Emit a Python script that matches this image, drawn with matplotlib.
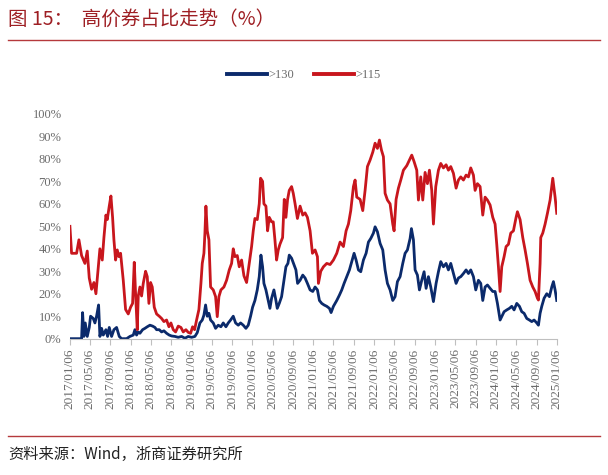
import matplotlib
matplotlib.use("Agg")
import matplotlib.pyplot as plt
from matplotlib.lines import Line2D
from matplotlib.ticker import FuncFormatter
import pandas as pd

start = pd.Timestamp("2017-01-06")

# days since 2017/01/06 and share (%) of bonds priced above 115
red_days = [0, 10, 40, 54, 70, 90, 104, 116, 130, 144, 156, 170, 180, 194, 204, 216, 224, 236, 246, 256,
            264, 274, 284, 294, 304, 320, 334, 350, 364, 376, 386, 394, 404, 410, 420, 430, 440, 454, 464, 474,
            484, 494, 506, 520, 536, 550, 564, 580, 594, 606, 620, 634, 650, 666, 680, 696, 710, 724, 736, 748,
            760, 774, 786, 794, 804, 810, 816, 824, 834, 844, 860, 874, 884, 894, 906, 924, 940, 956, 970, 980,
            990, 1004, 1016, 1030, 1044, 1060, 1076, 1090, 1100, 1110, 1124, 1136, 1144, 1156, 1164, 1176, 1186,
            1196, 1210, 1220, 1230, 1240, 1250, 1260, 1276, 1286, 1296, 1306, 1316, 1330, 1340, 1351, 1365, 1381,
            1397, 1411, 1425, 1441, 1455, 1471, 1485, 1491, 1505, 1521, 1541, 1561, 1581, 1601, 1621, 1641, 1657,
            1671, 1685, 1701, 1711, 1721, 1741, 1757, 1771, 1785, 1801, 1817, 1831, 1845, 1857, 1869, 1881, 1891,
            1905, 1921, 1937, 1945, 1957, 1971, 1985, 2001, 2021, 2037, 2051, 2065, 2081, 2091, 2105, 2117, 2131,
            2145, 2157, 2171, 2181, 2195, 2211, 2225, 2241, 2257, 2271, 2285, 2301, 2317, 2331, 2345, 2361, 2377,
            2391, 2405, 2421, 2431, 2445, 2461, 2477, 2491, 2505, 2521, 2537, 2551, 2561, 2571, 2581, 2591, 2605,
            2617, 2631, 2645, 2661, 2677, 2685, 2701, 2717, 2731, 2745, 2761, 2777, 2791, 2805, 2811, 2821, 2825,
            2837, 2851, 2865, 2881, 2897, 2911, 2921]
red_vals = [50, 38, 38, 44, 37, 33.5, 39, 27, 22, 25, 20, 32, 40, 35, 45, 55, 53, 59, 63.5, 54,
            44, 35, 39.5, 36.5, 38, 26, 13, 11, 14, 15.7, 34, 20, 4, 19, 23, 19, 24.6, 30, 27.6, 15.7,
            25, 23, 14, 11, 10, 9, 7.6, 8.3, 5.3, 7, 4, 3, 5.6, 5, 3, 4, 2.8, 2.4, 5.3, 4,
            8.3, 13, 24.6, 33.5, 38, 47, 59, 48, 44, 23, 21.7, 18.7, 9.8, 18.7, 21.7, 23, 26, 30.6, 33.5, 40,
            36.5, 37, 32, 35, 28, 25, 33.5, 41, 48, 53.5, 53, 60, 71.4, 70, 60, 59, 48,
            54, 52, 52, 44, 35, 39.5, 42, 45, 62, 54, 62, 66, 67.7, 64.7, 60, 53.5, 59,
            55, 56, 54, 48, 38, 39.5, 36.5, 24.6, 30, 32, 33.5, 33, 35, 38, 43, 41, 48,
            51, 57, 67.7, 70.6, 63, 62, 57, 66, 76.6, 79.5, 83, 87, 84.7, 88.4, 84, 81, 64.7,
            61.7, 60, 51, 48, 62, 67, 70.6, 75, 77, 79.5, 81.7, 78.8, 75, 61.7, 72, 61.7, 74,
            69, 75, 66, 51, 67.7, 75, 78, 76, 77.4, 75, 76.6, 73.6, 67, 70.6, 72, 70.6, 72.8,
            72, 76, 72.8, 66, 69, 67.7, 55, 63, 61.7, 59.5, 54, 51, 42, 32, 21, 32, 36.5,
            41, 42, 47, 48, 54, 56.5, 53, 45, 39.5, 33.5, 26, 23, 21, 18, 17.2, 33.5, 45,
            47, 51, 55.8, 61.7, 71.4, 63, 55.8]

# days since 2017/01/06 and share (%) of bonds priced above 130
blue_days = [0, 70, 76, 84, 92, 104, 116, 124, 140, 150, 160, 172, 180, 190, 200, 216, 226, 236, 250, 264,
             280, 296, 310, 340, 360, 380, 390, 400, 410, 420, 436, 450, 464, 480, 496, 510, 520, 536, 550, 564,
             580, 596, 610, 630, 650, 670, 690, 710, 730, 750, 764, 780, 794, 804, 814, 824, 834, 844, 860, 874,
             890, 906, 920, 936, 950, 964, 980, 994, 1010, 1024, 1040, 1056, 1070, 1084, 1096, 1110, 1124, 1136,
             1146, 1156, 1164, 1176, 1190, 1200, 1210, 1224, 1236, 1244, 1256, 1270, 1284, 1296, 1308, 1316, 1330,
             1344, 1356, 1366, 1381, 1397, 1411, 1425, 1441, 1457, 1471, 1485, 1497, 1511, 1525, 1541, 1557, 1567,
             1581, 1601, 1617, 1631, 1645, 1661, 1677, 1691, 1705, 1717, 1731, 1745, 1761, 1777, 1791, 1805, 1821,
             1831, 1845, 1861, 1877, 1891, 1905, 1921, 1937, 1951, 1965, 1981, 1997, 2011, 2025, 2041, 2049, 2061,
             2071, 2085, 2097, 2111, 2125, 2137, 2151, 2165, 2181, 2197, 2211, 2225, 2241, 2257, 2271, 2285, 2301,
             2317, 2331, 2345, 2361, 2377, 2391, 2405, 2421, 2435, 2451, 2465, 2477, 2491, 2505, 2521, 2537, 2551,
             2565, 2581, 2591, 2605, 2621, 2637, 2651, 2665, 2681, 2697, 2711, 2725, 2741, 2757, 2771, 2785, 2801,
             2811, 2821, 2831, 2845, 2861, 2877, 2891, 2901, 2911, 2921]
blue_vals = [0, 0, 11.6, 1, 7, 1, 5, 10, 9, 7, 10, 15, 1, 4.6, 1.6, 4, 1, 5, 1, 4,
             5, 1, 0, 0, 1, 1.6, 4, 1.6, 3, 2.4, 4, 4.6, 5.3, 6, 5.6, 5, 4, 4, 3, 3.5,
             2.4, 1.6, 1.2, 1, 0.6, 1, 0.2, 1, 0.6, 1, 2.7, 7, 8.3, 10.5, 15, 10, 11.3, 8.3, 7, 4.6,
             6, 5.3, 7, 5.3, 7, 8.3, 10, 7, 6, 7, 6, 4.6, 6, 10, 14, 17, 21.7, 27.6,
             37.2, 32, 24.6, 21.7, 17, 13.5, 18, 21.7, 17, 13.5, 15.7, 18.7, 26, 32, 33.5, 37.2, 35.8,
             33, 30.6, 24.6, 26, 28.3, 27, 24.6, 21.7, 21, 23, 21.7, 17, 15.7, 15, 14.4, 13.5, 11.6,
             14.4, 17, 19.4, 21.7, 24.6, 27.6, 30.6, 34.3, 38, 35, 30.6, 29.8, 35, 38, 43, 44.6, 47,
             49.8, 47.6, 42.4, 39.5, 30.6, 24.6, 21.7, 17, 18.7, 25.4, 27.6, 33.5, 38, 39.5, 44.6, 49, 44,
             30.6, 28.3, 21.7, 26, 29.8, 22.4, 27.6, 23, 16.5, 24.6, 29.8, 34.3, 32, 33.5, 30.6, 33.5, 29,
             24.6, 27, 27.6, 29, 30.6, 29, 30.6, 27.6, 21.7, 26, 24.6, 17, 23, 23.9, 22.4, 21, 21,
             15.7, 8.3, 9.8, 12, 12.8, 13.5, 14.4, 12.8, 15.7, 14.4, 12, 11.3, 9, 8.3, 7.6, 8.3, 7,
             6, 11.3, 14.4, 18, 20, 18.7, 23, 25.4, 21.7, 17]

red_dates = start + pd.to_timedelta(red_days, unit="D")
blue_dates = start + pd.to_timedelta(blue_days, unit="D")
tick_dates = pd.date_range("2017-01-06", "2025-01-06", freq=pd.DateOffset(months=4))

NAVY = "#0B2A6B"
RED = "#C8161D"
GRAY = "#6B6B6B"
serif = ["Liberation Serif", "DejaVu Serif"]
cjk = ["Noto Sans CJK SC", "DejaVu Sans"]

fig = plt.figure(figsize=(6.08, 4.75), dpi=100)
ax = fig.add_axes([0.115, 0.287, 0.801, 0.473])

l1, = ax.plot(blue_dates, blue_vals, color=NAVY, lw=2.0, label=">130")
l2, = ax.plot(red_dates, red_vals, color=RED, lw=2.0, label=">115")

ax.set_xlim(tick_dates[0], tick_dates[-1])
ax.set_ylim(0, 100)
ax.set_yticks(range(0, 101, 10))
ax.yaxis.set_major_formatter(FuncFormatter(lambda v, p: "%d%%" % v))
ax.set_xticks(tick_dates)
ax.set_xticklabels([d.strftime("%Y/%m/%d") for d in tick_dates], rotation=90)

for s in ["left", "top", "right"]:
    ax.spines[s].set_visible(False)
ax.spines["bottom"].set_color("#BFBFBF")
ax.tick_params(axis="y", length=0, pad=6, labelsize=9, labelcolor=GRAY)
ax.tick_params(axis="x", length=4, color="#BFBFBF", pad=3, labelsize=9.5, labelcolor=GRAY)
for lab in ax.get_xticklabels() + ax.get_yticklabels():
    lab.set_family(serif)

leg = fig.legend(handles=[l1, l2], loc="center", bbox_to_anchor=(0.5, 1 - 75 / 475), ncol=2,
                 frameon=False, handlelength=3.2, handletextpad=0.1, columnspacing=1.6,
                 prop={"family": serif, "size": 9})
for line in leg.get_lines():
    line.set_linewidth(2.8)
for t in leg.get_texts():
    t.set_color(GRAY)

fig.text(0.013, 1 - 19 / 475, "图 15：  高价券占比走势（%）", family=cjk, size=14,
         color="#9E1F24", va="center", ha="left")
fig.add_artist(Line2D([0.013, 0.987], [1 - 40 / 475] * 2, color="#B5393C", lw=1.0))
fig.add_artist(Line2D([0.013, 0.987], [1 - 436 / 475] * 2, color="#B5393C", lw=1.0))
fig.text(0.013, 1 - 454 / 475, "资料来源：Wind，浙商证券研究所", family=cjk, size=11,
         color="#222222", va="center", ha="left")

fig.savefig("out.png", dpi=100)
